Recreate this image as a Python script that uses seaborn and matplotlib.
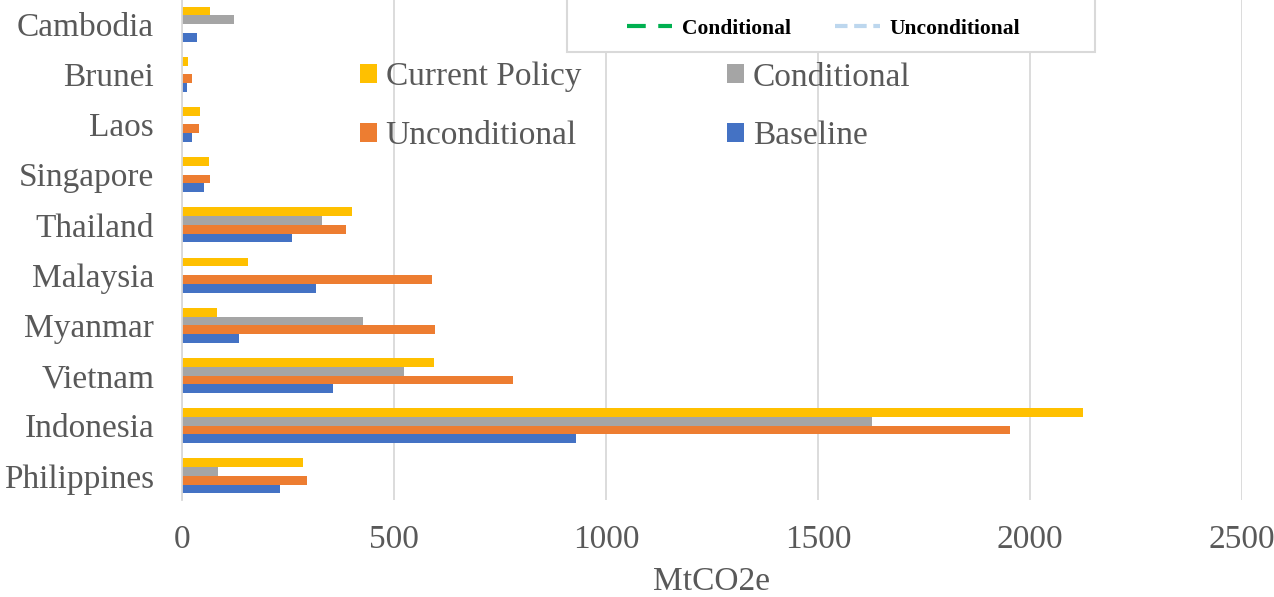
import matplotlib
matplotlib.use("Agg")
import matplotlib.pyplot as plt
import pandas as pd
import seaborn as sns
from matplotlib.lines import Line2D
from matplotlib.patches import Patch, Rectangle

countries = ["Cambodia", "Brunei", "Laos", "Singapore", "Thailand", "Malaysia",
             "Myanmar", "Vietnam", "Indonesia", "Philippines"]
scenarios = ["Current Policy", "Conditional", "Unconditional", "Baseline"]
current_policy = [66, 14, 42, 63, 401, 156, 82, 594, 2125, 285]
conditional = [123, 0, 0, 0, 330, 0, 427, 523, 1627, 85]
unconditional = [0, 24, 40, 66, 387, 589, 597, 781, 1953, 295]
baseline = [36, 11, 24, 52, 259, 316, 134, 356, 929, 231]
xticks = [0, 500, 1000, 1500, 2000, 2500]

colors = {"Current Policy": "#ffc000", "Conditional": "#a5a5a5",
          "Unconditional": "#ed7d31", "Baseline": "#4472c4"}

df = pd.DataFrame({"country": countries * 4,
                   "scenario": [s for s in scenarios for _ in countries],
                   "value": current_policy + conditional + unconditional + baseline})

sns.set_theme(style="white")
plt.rcParams["font.family"] = ["Liberation Serif", "DejaVu Serif"]
text_col = "#595959"

fig = plt.figure(figsize=(12.74, 5.97), dpi=100)
ax = fig.add_axes([182 / 1274, 1 - 500 / 597, (1242 - 182) / 1274, 500 / 597])

sns.barplot(data=df, y="country", x="value", hue="scenario", order=countries,
            hue_order=scenarios, palette=colors, orient="h", width=0.7,
            saturation=1, linewidth=0, ax=ax, legend=False)

ax.set_xlim(0, 2500)
ax.set_ylim(9.48, -0.48)
ax.set_xticks(xticks)
ax.xaxis.grid(True, color="#d9d9d9", lw=1.3)
ax.set_axisbelow(True)
for side in ["top", "right", "bottom"]:
    ax.spines[side].set_visible(False)
ax.spines["left"].set_color("#d9d9d9")
ax.spines["left"].set_linewidth(1.3)
ax.tick_params(axis="both", length=0, labelsize=24, labelcolor=text_col)
ax.tick_params(axis="x", pad=18)
ax.tick_params(axis="y", pad=20)
ax.set_ylabel("")
ax.set_xlabel("MtCO2e", fontsize=24, color=text_col, labelpad=8)

handles = [Patch(facecolor=colors[s], edgecolor="none") for s in scenarios]
order = [0, 2, 1, 3]
ax.legend([handles[i] for i in order], [scenarios[i] for i in order], ncol=2,
          loc="upper left", bbox_to_anchor=(360 / 1274, 1 - 62 / 597),
          bbox_transform=fig.transFigure, frameon=False, fontsize=24,
          handlelength=0.5, handleheight=0.5, handletextpad=0.27,
          labelspacing=0.85, columnspacing=4.38, borderpad=0, borderaxespad=0,
          labelcolor=text_col)

# partial secondary legend box cut at top of figure
fig.patches.append(Rectangle((567 / 1274, 1 - 52 / 597), (1095 - 567) / 1274, 0.2,
                             transform=fig.transFigure, facecolor="white",
                             edgecolor="#d9d9d9", lw=1.5, zorder=5))
line_handles = [Line2D([], [], color="#00b050", lw=3, dashes=(4.5, 3.0)),
                Line2D([], [], color="#bdd7ee", lw=3, dashes=(3.0, 1.6))]
fig.legend(line_handles, ["Conditional", "Unconditional"], ncol=2,
           loc="center left", bbox_to_anchor=(627 / 1274, 1 - 29 / 597),
           frameon=False, prop={"weight": "bold", "size": 15.5},
           handlelength=2.1, handletextpad=0.45, columnspacing=2.03,
           borderpad=0, borderaxespad=0, labelcolor="black").set_zorder(6)

fig.savefig("out.png", dpi=100)
